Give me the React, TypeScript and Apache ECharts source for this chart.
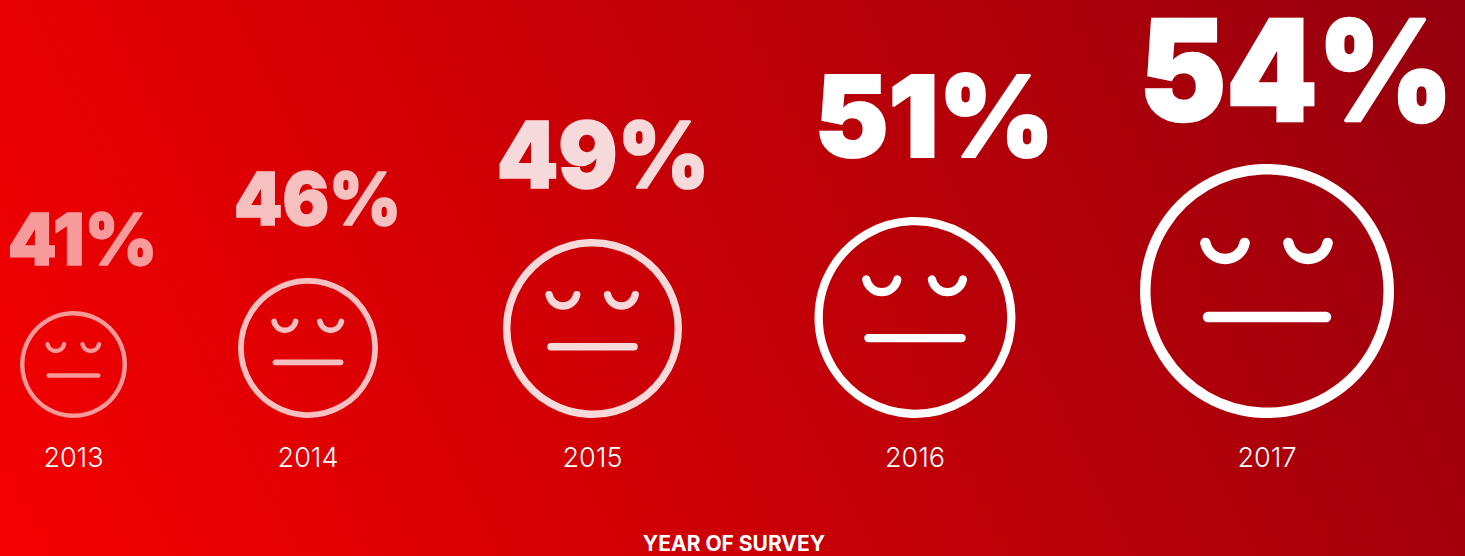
import React, { useEffect, useRef } from "react";
import * as echarts from "echarts";

const surveyYears = ["2013", "2014", "2015", "2016", "2017"];
const agreePercent = [41, 46, 49, 51, 54];

// Layout of each face, in axis units (the axes span the page in pixels, y measured upward).
const faceCentres = [73.5, 308, 592.5, 915, 1267];
const faceDiameters = [107, 140, 179, 201, 254];
const faceOpacities = [0.6, 0.75, 0.85, 1, 1];

// Percentage labels: type size, gap above the face, shift from the face centre, horizontal squeeze, tint.
const labelFontSizes = [71.5, 73.5, 92, 113, 140];
const labelGaps = [46, 53, 50.7, 60, 43];
const labelShifts = [9, 9.5, 10.5, 19.5, 29.5];
const labelSqueeze = [0.975, 0.94, 0.955, 0.98, 0.93];
const labelColours = ["#f69a9c", "#f6c0c1", "#f6d9da", "#ffffff", "#ffffff"];

const FACE_BASE = 138;
const YEAR_BASE = 89.5;
const FONT = "Inter, 'Noto Sans', sans-serif";

function renderFace(_params: any, api: any) {
  const i = api.value(0) as number;
  const centre = api.coord([api.value(1), FACE_BASE]);
  const d = api.size([api.value(2), 0])[0];
  const u = d / 254;
  const r = d / 2;
  const cx = centre[0];
  const bottom = centre[1];
  const cy = bottom - r;
  const sw = 10.5 * u;
  const line = {
    fill: "none",
    stroke: "#ffffff",
    lineWidth: sw,
    lineCap: "round",
    opacity: faceOpacities[i],
  };
  const yearPos = api.coord([api.value(1), YEAR_BASE]);
  const labelSize = labelFontSizes[i];
  return {
    type: "group",
    children: [
      {
        type: "circle",
        shape: { cx, cy, r: r - sw / 2 },
        style: { ...line },
      },
      {
        type: "arc",
        shape: {
          cx: cx - 42 * u,
          cy: cy - 52 * u,
          r: 20 * u,
          startAngle: 0.2,
          endAngle: Math.PI - 0.2,
          clockwise: true,
        },
        style: { ...line },
      },
      {
        type: "arc",
        shape: {
          cx: cx + 41 * u,
          cy: cy - 52 * u,
          r: 20 * u,
          startAngle: 0.2,
          endAngle: Math.PI - 0.2,
          clockwise: true,
        },
        style: { ...line },
      },
      {
        type: "line",
        shape: {
          x1: cx - 59 * u,
          y1: cy + 26 * u,
          x2: cx + 59 * u,
          y2: cy + 26 * u,
        },
        style: { ...line },
      },
      {
        type: "text",
        x: cx + labelShifts[i],
        y: bottom - d - labelGaps[i] - 0.81 * labelSize,
        scaleX: labelSqueeze[i],
        style: {
          text: `${api.value(3)}%`,
          align: "center",
          fill: labelColours[i],
          stroke: labelColours[i],
          lineWidth: 0.018 * labelSize,
          lineJoin: "miter",
          lineHeight: 0.9 * labelSize,
          font: `900 ${labelSize}px ${FONT}`,
        },
      },
      {
        type: "text",
        x: yearPos[0],
        y: yearPos[1] - 23,
        style: {
          text: surveyYears[i],
          align: "center",
          fill: "#ffffff",
          font: `300 27px ${FONT}`,
        },
      },
    ],
  };
}

export default function App() {
  const ref = useRef<HTMLDivElement>(null);
  useEffect(() => {
    const chart = echarts.init(ref.current!, undefined, { renderer: "svg" });
    chart.setOption({
      animation: false,
      title: {
        text: "YEAR OF SURVEY",
        left: 734,
        top: 532.5,
        padding: 0,
        textAlign: "center",
        textStyle: {
          color: "#ffffff",
          fontFamily: FONT,
          fontWeight: 700,
          fontSize: 21,
        },
      },
      grid: { left: 0, right: 0, top: 0, bottom: 0 },
      xAxis: { type: "value", min: 0, max: 1465, show: false },
      yAxis: { type: "value", min: 0, max: 556, show: false },
      series: [
        {
          type: "custom",
          renderItem: renderFace,
          clip: false,
          data: surveyYears.map((_, i) => [
            i,
            faceCentres[i],
            faceDiameters[i],
            agreePercent[i],
          ]),
          encode: { x: 1, y: 2 },
        },
      ],
    });
    return () => chart.dispose();
  }, []);
  return (
    <div
      ref={ref}
      style={{
        position: "fixed",
        left: 0,
        top: 0,
        width: 1465,
        height: 556,
        background: "linear-gradient(64deg, #f50000 0%, #95000e 100%)",
      }}
    />
  );
}
